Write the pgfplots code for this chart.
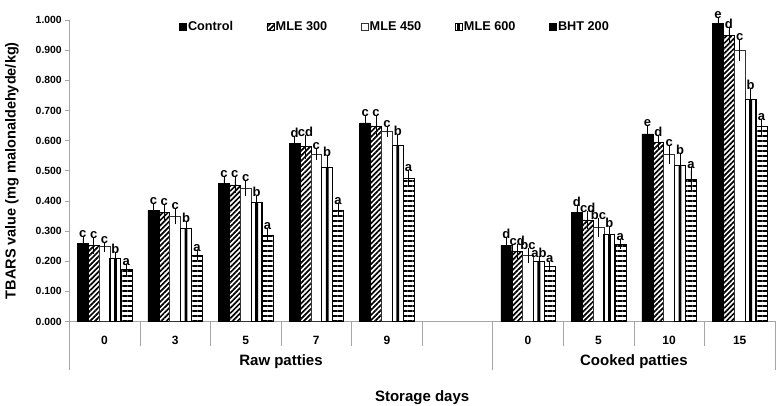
\documentclass[border=0pt]{standalone}
\usepackage{fontspec}
\setmainfont{Liberation Sans}
\usepackage{pgfplots}
\pgfplotsset{compat=1.18}
\usepackage{pgfplotstable}
\usetikzlibrary{patterns.meta}

\pgfplotstableread{
x c ce cl m3 m3e m3l m45 m45e m45l m6 m6e m6l b be bl
0 0.259 0.015 c 0.252 0.017 c 0.248 0.006 c 0.209 0.010 b 0.173 0.008 a
1 0.369 0.015 c 0.362 0.016 c 0.350 0.017 c 0.309 0.013 b 0.220 0.006 a
2 0.458 0.016 c 0.453 0.018 c 0.442 0.017 c 0.395 0.012 b 0.287 0.014 a
3 0.591 0.014 d 0.580 0.030 cd 0.555 0.009 c 0.511 0.030 b 0.370 0.014 a
4 0.659 0.017 c 0.649 0.025 c 0.630 0.007 c 0.585 0.025 b 0.476 0.015 a
6 0.253 0.018 d 0.232 0.016 cd 0.220 0.015 bc 0.199 0.008 ab 0.182 0.007 a
7 0.362 0.014 d 0.337 0.019 cd 0.312 0.021 bc 0.290 0.014 b 0.257 0.008 a
8 0.622 0.021 e 0.594 0.016 d 0.554 0.021 c 0.516 0.033 b 0.471 0.030 a
9 0.990 0.009 e 0.950 0.016 d 0.900 0.025 c 0.735 0.028 b 0.646 0.017 a
}\data

\pgfplotsset{
  lett/.style={nodes near coords, point meta=explicit symbolic,
    visualization depends on={301.5*\thisrow{#1} \as \eshift},
    every node near coord/.append style={yshift=\eshift, inner sep=1.2pt,
      text=black, font=\fontsize{13}{15}\selectfont\bfseries}},
  eb/.style={error bars/y dir=both, error bars/y explicit,
    error bars/error bar style={black, line width=0.6pt},
    error bars/error mark options={black, mark size=3pt, line width=0.6pt}},
}

\begin{document}
\begin{tikzpicture}
\begin{axis}[
  name=ax,
  at={(0,0)}, anchor=south west,
  scale only axis,
  width=705.7pt, height=301.5pt,
  xmin=-0.5, xmax=9.5, ymin=0, ymax=1,
  ybar=0pt, bar width=0.154,
  axis x line*=bottom, axis y line*=left,
  axis line style={draw=gray!70, line width=0.6pt},
  xtick={0,1,2,3,4,6,7,8,9},
  xticklabels={0,3,5,7,9,0,5,10,15},
  xtick style={draw=none},
  xticklabel style={font=\fontsize{12}{14}\selectfont\bfseries, anchor=center, yshift=-15pt},
  ytick={0,0.1,0.2,0.3,0.4,0.5,0.6,0.7,0.8,0.9,1.0},
  ytick style={draw=gray!70, line width=0.6pt},
  tick align=outside, major tick length=4pt,
  yticklabel style={font=\fontsize{10.4}{12}\selectfont\bfseries,
    /pgf/number format/.cd, fixed, fixed zerofill, precision=3, assume math mode=true},
  clip=false,
  legend columns=5,
  legend style={draw=none, fill=none, inner sep=0pt, outer sep=0pt,
    at={(axis description cs:0.1555,0.978)}, anchor=west,
    font=\fontsize{12.7}{15}\selectfont\bfseries,
    nodes={inner sep=1.5pt},
    /tikz/every even column/.append style={column sep=32pt}},
  legend image code/.code={\draw[#1, line width=0.5pt] (0pt,-3.5pt) rectangle (7pt,3.5pt);},
]
\addplot[fill=black, draw=black, bar shift=-0.308, lett=ce, eb]
  table[x=x, y=c, y error=ce, meta=cl] {\data};
\addlegendentry{Control}
\addplot[draw=black, line width=0.5pt, pattern={Lines[angle=45,distance=3.6pt,line width=1.7pt]}, pattern color=black,
  bar shift=-0.154, lett=m3e, eb]
  table[x=x, y=m3, y error=m3e, meta=m3l] {\data};
\addlegendentry{MLE 300}
\addplot[fill=white, draw=black!80, line width=0.6pt, bar shift=0, lett=m45e, eb]
  table[x=x, y=m45, y error=m45e, meta=m45l] {\data};
\addlegendentry{MLE 450}
\addplot[fill=white, draw=black, line width=1.1pt, bar shift=0.154, lett=m6e, eb,
  legend image code/.code={\draw[black, fill=white, line width=0.7pt] (0pt,-3.5pt) rectangle (7pt,3.5pt);
    \fill[black] (2.6pt,-3.5pt) rectangle (4.4pt,3.5pt);}]
  table[x=x, y=m6, y error=m6e, meta=m6l] {\data};
\addlegendentry{MLE 600}
\addplot[draw=black, line width=0.5pt, pattern={Lines[angle=0,distance=5pt,line width=2.6pt]}, pattern color=black,
  bar shift=0.308, lett=be, eb,
  legend image code/.code={\draw[black, line width=0.6pt] (0pt,-3.5pt) rectangle (7pt,3.5pt);
    \fill[black] (0pt,-0.7pt) rectangle (7pt,0.7pt);}]
  table[x=x, y=b, y error=be, meta=bl] {\data};
\addlegendentry{BHT 200}
\addplot[fill=black, draw=none, bar width=0.04, bar shift=0.154, forget plot]
  table[x=x, y=m6] {\data};

\pgfplotsinvokeforeach{-0.5,0.5,1.5,2.5,3.5,4.5,5.5,6.5,7.5,8.5,9.5}{
  \draw[gray!70, line width=0.6pt] (axis cs:#1,0) -- ([yshift=-24.2pt]axis cs:#1,0);
}
\pgfplotsinvokeforeach{-0.5,5.5,9.5}{
  \draw[gray!70, line width=0.6pt] (axis cs:#1,0) -- ([yshift=-48.5pt]axis cs:#1,0);
}
\node[font=\fontsize{15}{18}\selectfont\bfseries] at ([yshift=-40.2pt]axis cs:2.5,0) {Raw patties};
\node[font=\fontsize{15}{18}\selectfont\bfseries] at ([yshift=-40.2pt]axis cs:7.5,0) {Cooked patties};
\end{axis}
\node[rotate=90, font=\fontsize{14.5}{17}\selectfont\bfseries] at ([xshift=-57.3pt]ax.west) {TBARS value (mg malonaldehyde/kg)};
\node[font=\fontsize{15}{18}\selectfont\bfseries] at ([yshift=-76.5pt]ax.south) {Storage days};
\pgfresetboundingbox
\path[use as bounding box] ([shift={(-69.3pt,-84.5pt)}]ax.south west) rectangle ([shift={(707.7pt,321.5pt)}]ax.south west);
\end{tikzpicture}
\end{document}
